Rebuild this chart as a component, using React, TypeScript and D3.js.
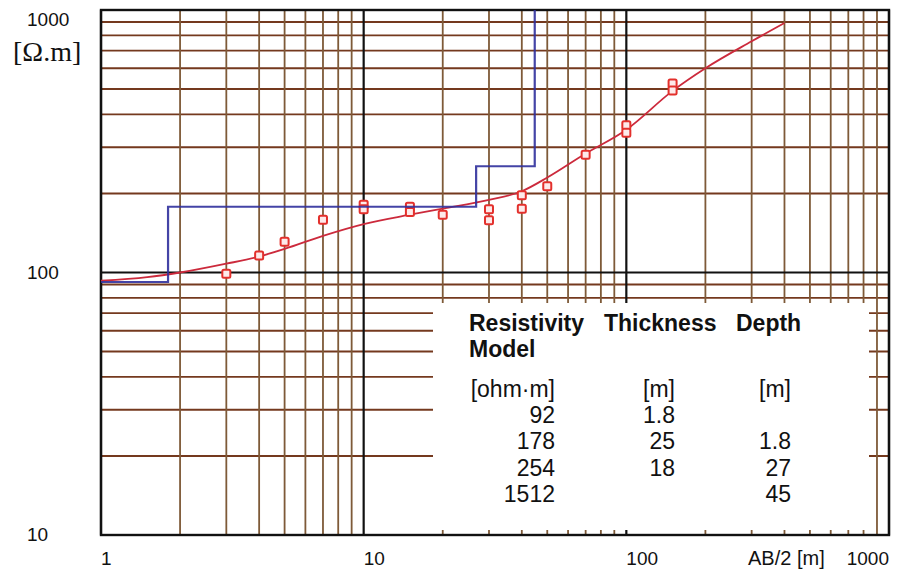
import React from 'react';
import * as d3 from 'd3';

// layered earth model (table + blue step curve)
const layerRho = [92, 178, 254, 1512];
const layerThick = [1.8, 25, 18];

// fitted sounding curve (AB/2, apparent resistivity)
const curveAB = [1, 1.5, 2, 3, 4, 5, 7, 10, 15, 20, 30, 40, 50, 70, 100, 150, 200, 300, 400];
const curveRho = [93, 96, 100, 108, 115, 123, 138, 153, 166, 175, 189, 204, 230, 284, 350, 492, 600, 760, 892];

// field measurements
const obsAB = [3, 4, 5, 7, 10, 10, 15, 15, 20, 30, 30, 40, 40, 50, 70, 100, 100, 150, 150];
const obsRho = [99, 116, 131, 159, 181, 174, 178, 170, 166, 174, 158, 197, 175, 213, 281, 364, 341, 525, 494];

const xTickLabels = ['1', '10', '100', '1000'];
const yTickLabels = ['10', '100', '1000'];

const W = 901, H = 570;

const fmt = (v: number) => (v < 10 ? v.toFixed(1) : String(Math.round(v)));

export default function App() {
  const x = d3.scaleLog().domain([1, 1000]).range([101, 889]);
  const y = d3.scaleLog().domain([10, 1000]).range([535, 10]);

  const isMajor = (v: number) => Math.abs(Math.log10(v) - Math.round(Math.log10(v))) < 1e-9;

  const depths = Array.from(d3.cumsum(layerThick));
  const bounds = [1, ...depths, 1000];
  const stepPts: [number, number][] = layerRho.map((r, i) => [bounds[i], r]);
  stepPts.push([1000, layerRho[layerRho.length - 1]]);
  const stepLine = d3.line<[number, number]>()
    .x(d => x(d[0]))
    .y(d => y(d[1]))
    .curve(d3.curveStepAfter);

  const fitLine = d3.line<number>()
    .x((_, i) => x(curveAB[i]))
    .y(d => y(d))
    .curve(d3.curveMonotoneX);

  const vert = x.ticks();
  const horiz = y.ticks();

  const rowY = (i: number) => 397 + i * 26.2;
  const tableFont = { fontFamily: '"Liberation Sans", Arial, sans-serif', fontSize: 23, fill: '#111' };

  return (
    <svg width={W} height={H} style={{ position: 'absolute', left: 0, top: 0, background: '#fff' }}>
      <defs>
        <clipPath id="plot">
          <rect x={101} y={10} width={788} height={525} />
        </clipPath>
      </defs>
      <rect width={W} height={H} fill="#fff" />

      {/* grid */}
      {horiz.filter(v => !isMajor(v)).map(v => (
        <line key={'h' + v} x1={101} x2={889} y1={y(v)} y2={y(v)} stroke="#74391e" strokeWidth={1.8} />
      ))}
      {vert.filter(v => !isMajor(v)).map(v => (
        <line key={'v' + v} x1={x(v)} x2={x(v)} y1={10} y2={535} stroke="#7e5a38" strokeWidth={1.8} />
      ))}
      {horiz.filter(isMajor).map(v => (
        <line key={'H' + v} x1={101} x2={889} y1={y(v)} y2={y(v)} stroke="#111" strokeWidth={2.2} />
      ))}
      {vert.filter(isMajor).map(v => (
        <line key={'V' + v} x1={x(v)} x2={x(v)} y1={10} y2={535} stroke="#111" strokeWidth={2.2} />
      ))}

      {/* table background */}
      <rect x={433} y={303} width={436} height={227} fill="#fff" />

      {/* frame */}
      <rect x={101} y={10} width={788} height={525} fill="none" stroke="#111" strokeWidth={2.4} />

      <g clipPath="url(#plot)">
        <path d={fitLine(curveRho) || ''} fill="none" stroke="#cc2a3c" strokeWidth={1.8} />
        {obsAB.map((a, i) => (
          <rect key={'o' + i} x={x(a) - 4} y={y(obsRho[i]) - 4} width={8} height={8} rx={1.5}
            fill="#fdeaea" stroke="#e3302c" strokeWidth={2} />
        ))}
        <path d={stepLine(stepPts) || ''} fill="none" stroke="#30309c" strokeWidth={2.2} opacity={0.9} />
      </g>

      {/* axis labels */}
      <g style={{ fontFamily: '"Liberation Sans", Arial, sans-serif', fontSize: 19 }} fill="#111">
        {yTickLabels.map(t => (
          <text key={'yl' + t} x={27} y={Math.max(y(+t) + 6, 26)}>{t}</text>
        ))}
        {xTickLabels.map(t => (
          <text key={'xl' + t} x={x(+t)} y={565} textAnchor={+t >= 1000 ? 'end' : 'start'}>{t}</text>
        ))}
        <text x={748} y={565} style={{ fontSize: 20 }}>AB/2 [m]</text>
      </g>
      <text x={13} y={61} style={{ fontFamily: '"Liberation Serif", "Times New Roman", serif', fontSize: 28 }} fill="#111">[Ω.m]</text>

      {/* model table */}
      <g style={{ ...tableFont, fontWeight: 'bold' }}>
        <text x={469} y={331}>Resistivity</text>
        <text x={604} y={331}>Thickness</text>
        <text x={736} y={331}>Depth</text>
        <text x={469} y={357}>Model</text>
      </g>
      <g style={tableFont}>
        <text x={555} y={rowY(0)} textAnchor="end">[ohm·m]</text>
        <text x={675} y={rowY(0)} textAnchor="end">[m]</text>
        <text x={791} y={rowY(0)} textAnchor="end">[m]</text>
        {layerRho.map((r, i) => (
          <text key={'r' + i} x={555} y={rowY(i + 1)} textAnchor="end">{r}</text>
        ))}
        {layerThick.map((t, i) => (
          <text key={'t' + i} x={675} y={rowY(i + 1)} textAnchor="end">{fmt(t)}</text>
        ))}
        {depths.map((d, i) => (
          <text key={'d' + i} x={791} y={rowY(i + 2)} textAnchor="end">{fmt(d)}</text>
        ))}
      </g>
    </svg>
  );
}
